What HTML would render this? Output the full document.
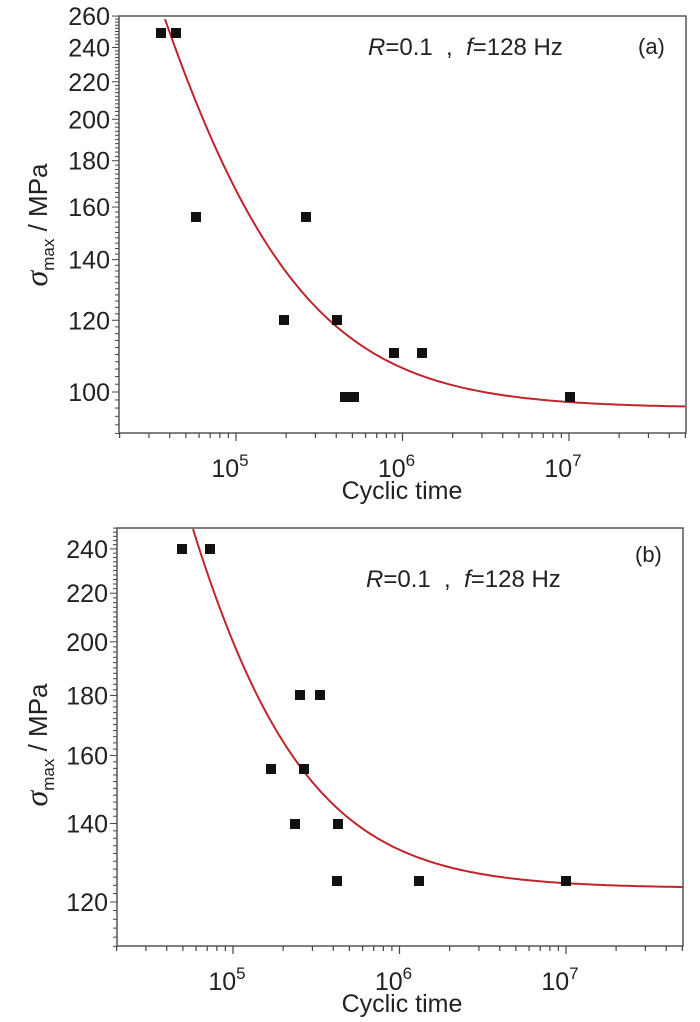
<!DOCTYPE html>
<html><head><meta charset="utf-8"><style>
html,body{margin:0;padding:0;background:#fff;}
svg{display:block;font-family:"Liberation Sans",sans-serif;}
</style></head><body>
<svg id="s" width="700" height="1022" viewBox="0 0 700 1022" xmlns="http://www.w3.org/2000/svg"></svg>
<script>
const s=document.getElementById('s');let h='';
function panel(o){
 const {L,R,T,B,x5,ylo,yhi,yref,yrefv,ppd,labels,pts,Sinf,C,p,tag,tagY,txtY,titleY,ylabY}=o;
 const X=v=>x5+(Math.log10(v)-5)*166.5;
 const Y=v=>yref-(Math.log10(v)-Math.log10(yrefv))*ppd;
 h+=`<rect x="${L}" y="${T}" width="${R-L}" height="${B-T}" fill="none" stroke="#555" stroke-width="1.5"/>`;
 for(let v=Math.ceil(ylo/2)*2;v<=yhi;v+=2){const y=Y(v);if(y<T-0.5||y>B+0.5)continue;
  const maj=labels.includes(v);h+=`<line x1="${L}" x2="${L-(maj?7:4)}" y1="${y}" y2="${y}" stroke="#444" stroke-width="1"/>`;
  if(maj)h+=`<text x="${L-9}" y="${y+9}" font-size="25" text-anchor="end" fill="#222">${v}</text>`;}
 for(let d=4;d<=7;d++)for(let m=1;m<10;m++){const v=m*Math.pow(10,d);const x=X(v);if(x<L-0.5||x>R+0.5)continue;
  h+=`<line x1="${x}" x2="${x}" y1="${B}" y2="${B+(m==1?8:5)}" stroke="#444" stroke-width="1.2"/>`;
  if(m==1)h+=`<text x="${x-6}" y="${B+44}" font-size="25" text-anchor="middle" fill="#222">10<tspan dy="-11" font-size="17">${d}</tspan></text>`;}
 let d='';
 for(let x=L;x<=R;x+=2){const N=Math.pow(10,5+(x-x5)/166.5);const S=Sinf+C*Math.pow(N/1e5,-p);let y=Y(S);
  if(y<T){continue;} d+=(d?'L':'M')+x+','+y.toFixed(1);}
 h+=`<path d="${d}" fill="none" stroke="#c0242c" stroke-width="2"/>`;
 pts.forEach(q=>h+=`<rect x="${q[0]-5}" y="${q[1]-5}" width="10" height="10" fill="#111"/>`);
 h+=`<text x="${R-48}" y="${tagY}" font-size="22" fill="#222">(${tag})</text>`;
 h+=`<text x="${L+249}" y="${txtY}" font-size="24" fill="#222" xml:space="preserve"><tspan font-style="italic">R</tspan>=0.1  ,  <tspan font-style="italic">f</tspan>=128 Hz</text>`;
 h+=`<text x="402" y="${titleY}" font-size="25" text-anchor="middle" fill="#222">Cyclic time</text>`;
 h+=`<text transform="translate(47,${ylabY}) rotate(-90)" font-size="26" text-anchor="middle" fill="#222"><tspan font-style="italic" font-family="Liberation Serif" font-size="32">σ</tspan><tspan font-size="17" dy="7">max</tspan><tspan dy="-7"> / MPa</tspan></text>`;
}
panel({L:119,R:686,T:16,B:433,x5:236,ylo:90,yhi:260,yref:392,yrefv:100,ppd:906,
 labels:[100,120,140,160,180,200,220,240,260],
 pts:[[161,33],[176,33],[196,217],[306,217],[284,320],[337,320],[345,397],[354,397],[394,353],[422,353],[570,397]],
 Sinf:96,C:71,p:0.84,
 tag:"a",tagY:54,txtY:55,titleY:499,ylabY:225});
panel({L:117,R:683,T:528,B:946,x5:233,ylo:110,yhi:250,yref:902,yrefv:120,ppd:1173,
 labels:[120,140,160,180,200,220,240],
 pts:[[182,549],[210,549],[300,695],[320,695],[271,769],[304,769],[295,824],[338,824],[337,881],[419,881],[566,881]],
 Sinf:123.3,C:76.7,p:0.9,
 tag:"b",tagY:562,txtY:587,titleY:1012,ylabY:745});
s.innerHTML=h;
</script>
</body></html>
